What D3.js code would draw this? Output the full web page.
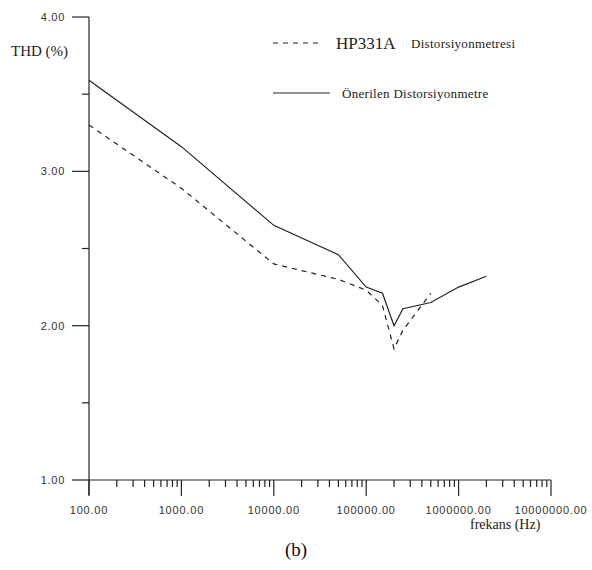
<!DOCTYPE html>
<html><head><meta charset="utf-8">
<script src="https://cdn.jsdelivr.net/npm/d3@7"></script>
<style>body{margin:0;background:#fff}svg{display:block}
.serif{font-family:"Liberation Serif","Times New Roman",serif}
.sans{font-family:"Liberation Sans",Arial,sans-serif}
</style>
</head><body>
<svg id="c" width="592" height="570"></svg>
<script>
const freqs = [100, 1000, 10000, 50000, 100000, 150000, 200000, 250000, 500000, 1000000, 2000000];
const onerilen = [3.59, 3.16, 2.65, 2.46, 2.25, 2.21, 2.00, 2.11, 2.15, 2.25, 2.32];
const hpFreqs = [100, 1000, 10000, 50000, 100000, 150000, 200000, 250000, 500000];
const hp331a = [3.30, 2.89, 2.40, 2.30, 2.23, 2.13, 1.85, 1.97, 2.21];
const xTicks = [100, 1000, 10000, 100000, 1000000, 10000000];
const yTicks = [1, 2, 3, 4];
const yMinor = [1.5, 2.5, 3.5];

const svg = d3.select("#c");
const x = d3.scaleLog().domain([100, 10000000]).range([89, 551]);
const y = d3.scaleLinear().domain([1, 4]).range([480, 17]);
const col = "#222";

svg.append("line").attr("x1",89).attr("x2",89).attr("y1",y(4)).attr("y2",495).attr("stroke",col).attr("stroke-width",1.2);
svg.append("line").attr("x1",89).attr("x2",x(10000000)).attr("y1",y(1)).attr("y2",y(1)).attr("stroke",col).attr("stroke-width",1.2);

yTicks.forEach(v=>{
  svg.append("line").attr("x1",72).attr("x2",89).attr("y1",y(v)).attr("y2",y(v)).attr("stroke",col).attr("stroke-width",1.2);
  svg.append("text").attr("class","sans").attr("x",65).attr("y",y(v)+4).attr("text-anchor","end")
    .attr("font-size",11).attr("fill","#333").attr("letter-spacing","0.7").text(v.toFixed(2));
});
yMinor.forEach(v=>{
  svg.append("line").attr("x1",82).attr("x2",89).attr("y1",y(v)).attr("y2",y(v)).attr("stroke",col).attr("stroke-width",1.2);
});

for (let d = 100; d < 10000000; d *= 10) {
  for (let k = 2; k <= 9; k++) {
    const xv = x(d*k);
    svg.append("line").attr("x1",xv).attr("x2",xv).attr("y1",y(1)).attr("y2",y(1)+7).attr("stroke",col).attr("stroke-width",1.2);
  }
}
xTicks.forEach(v=>{
  svg.append("line").attr("x1",x(v)).attr("x2",x(v)).attr("y1",y(1)).attr("y2",496).attr("stroke",col).attr("stroke-width",1.2);
  svg.append("text").attr("class","sans").attr("x",x(v)).attr("y",514).attr("text-anchor","middle")
    .attr("font-size",11).attr("fill","#333").attr("letter-spacing","0.8").text(v.toFixed(2));
});

const line = d3.line().x(d=>x(d[0])).y(d=>y(d[1]));
svg.append("path").datum(freqs.map((f,i)=>[f,onerilen[i]])).attr("d",line)
  .attr("fill","none").attr("stroke",col).attr("stroke-width",1.2);
svg.append("path").datum(hpFreqs.map((f,i)=>[f,hp331a[i]])).attr("d",line)
  .attr("fill","none").attr("stroke",col).attr("stroke-width",1.2).attr("stroke-dasharray","5,5");

svg.append("text").attr("class","serif").attr("x",11).attr("y",56).attr("font-size",15).attr("fill","#222").text("THD (%)");
svg.append("text").attr("class","serif").attr("x",470).attr("y",529).attr("font-size",14).attr("fill","#222").text("frekans (Hz)");
svg.append("text").attr("class","serif").attr("x",296).attr("y",556).attr("text-anchor","middle").attr("font-size",19).attr("fill","#111").text("(b)");

svg.append("line").attr("x1",273).attr("x2",323).attr("y1",43).attr("y2",43).attr("stroke",col).attr("stroke-width",1.2).attr("stroke-dasharray","5,5");
svg.append("text").attr("class","serif").attr("x",336).attr("y",49).attr("font-size",17).attr("fill","#222").text("HP331A");
svg.append("text").attr("class","serif").attr("x",411).attr("y",48).attr("font-size",13).attr("fill","#222").attr("letter-spacing","0.3").text("Distorsiyonmetresi");
svg.append("line").attr("x1",273).attr("x2",330).attr("y1",93).attr("y2",93).attr("stroke",col).attr("stroke-width",1.2);
svg.append("text").attr("class","serif").attr("x",342).attr("y",98).attr("font-size",13).attr("fill","#222").attr("letter-spacing","0.3").text("Önerilen Distorsiyonmetre");
</script>
</body></html>
